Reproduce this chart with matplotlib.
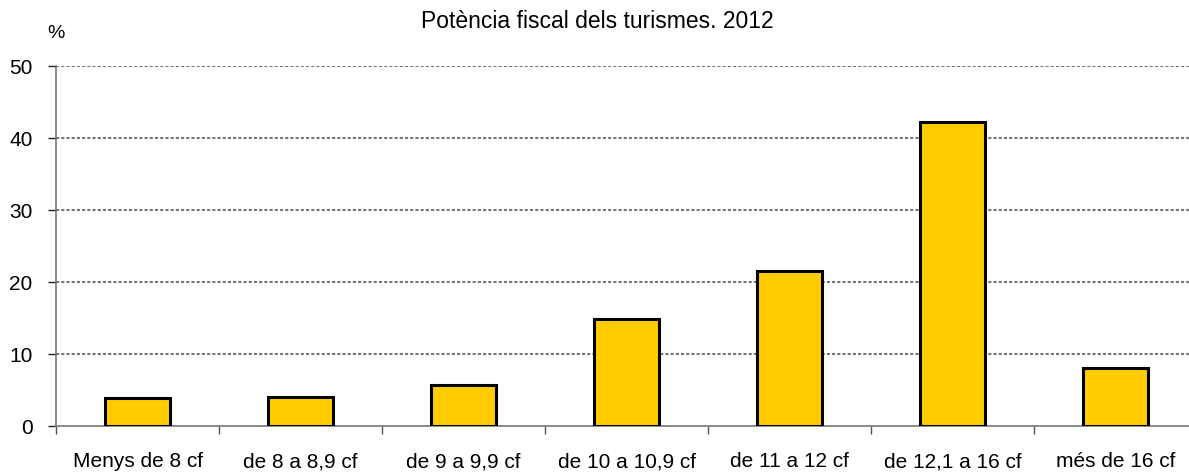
import matplotlib.pyplot as plt
import numpy as np

# Data
categories = ['Menys de 8 cf', 'de 8 a 8,9 cf', 'de 9 a 9,9 cf', 'de 10 a 10,9 cf',
              'de 11 a 12 cf', 'de 12,1 a 16 cf', 'més de 16 cf']
values = [3.9, 4.0, 5.7, 14.8, 21.5, 42.2, 8.1]
yticks = [0, 10, 20, 30, 40, 50]

plt.rcParams['font.family'] = ['Liberation Sans', 'DejaVu Sans']

fig = plt.figure(figsize=(11.89, 4.72), dpi=100)
# axes runs slightly past the right edge like the cropped original
ax = fig.add_axes([56 / 1189, 46 / 472, 1141 / 1189, 360 / 472])

x = np.arange(len(categories))
ax.bar(x, values, width=0.4, color='#ffcc00', edgecolor='black', linewidth=2.2, zorder=3)

ax.set_xlim(-0.5, len(categories) - 0.5)
ax.set_ylim(0, 50)
ax.set_yticks(yticks)
ax.set_yticklabels([str(v) for v in yticks], fontsize=15)

# category labels centred, tick marks at the boundaries
ax.set_xticks(x)
ax.set_xticklabels(categories, fontsize=15)
ax.tick_params(axis='x', length=0, pad=19)
ax.set_xticks(np.arange(len(categories)) - 0.5, minor=True)
ax.tick_params(axis='x', which='minor', length=6, width=1, color='#555555', direction='out')
ax.tick_params(axis='y', length=6, width=1, color='#222222', direction='out', pad=11)

for y in yticks[1:]:
    ax.axhline(y, color='#777777', linestyle=(0, (1.5, 1)), linewidth=1.5, zorder=1)

for s in ['top', 'right']:
    ax.spines[s].set_visible(False)
ax.spines['left'].set_color('#777777')
ax.spines['bottom'].set_color('#777777')
ax.spines['left'].set_linewidth(1.2)
ax.spines['bottom'].set_linewidth(1.2)

fig.text(597 / 1189, 1 - 21 / 472, 'Potència fiscal dels turismes. 2012', fontsize=16.5,
         ha='center', va='center')
fig.text(56 / 1189, 1 - 34 / 472, '%', fontsize=14, ha='center', va='center')

plt.savefig('out.png', dpi=100)
